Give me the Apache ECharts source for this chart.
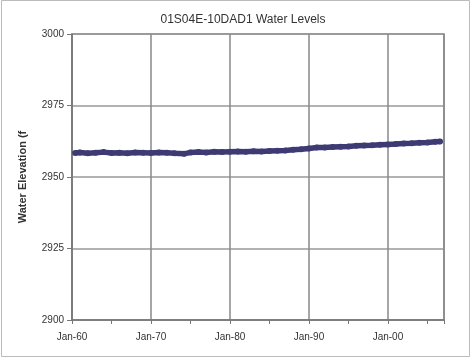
<!DOCTYPE html>
<html>
<head>
<meta charset="utf-8">
<script src="https://cdn.jsdelivr.net/npm/echarts@6/dist/echarts.min.js"></script>
<style>
html,body{margin:0;padding:0;background:#fff;}
#c{width:471px;height:359px;}
</style>
</head>
<body>
<div id="c"></div>
<script>
const title = "01S04E-10DAD1 Water Levels";
const yAxisName = "Water Elevation (f";
const years = [1960.4,1961,1962,1963,1964,1965,1966,1967,1968,1969,1970,1971,1972,1973,1974.2,1975,1976,1977,1978,1979,1980,1981,1982,1983,1984,1985,1986,1987,1988,1989,1990,1991,1992,1993,1994,1995,1996,1997,1998,1999,2000,2001,2002,2003,2004,2005,2006,2006.6];
const levels = [2958.4,2958.6,2958.3,2958.5,2958.7,2958.4,2958.5,2958.3,2958.6,2958.5,2958.4,2958.6,2958.5,2958.3,2958.1,2958.6,2958.7,2958.6,2958.8,2958.7,2958.8,2958.9,2958.8,2959.0,2958.9,2959.1,2959.2,2959.3,2959.5,2959.7,2960.0,2960.3,2960.3,2960.5,2960.6,2960.7,2960.9,2961.0,2961.1,2961.3,2961.4,2961.5,2961.7,2961.8,2962.0,2962.1,2962.3,2962.4];
const yTicks = [2900, 2925, 2950, 2975, 3000];
const xTickYears = [1960, 1970, 1980, 1990, 2000];

const chart = echarts.init(document.getElementById('c'));
const font = "'Liberation Sans', Arial, sans-serif";
chart.setOption({
  animation: false,
  backgroundColor: '#fff',
  title: {
    text: title, left: 238, top: 9, textAlign: 'center',
    textStyle: {fontFamily: font, fontSize: 12, fontWeight: 'normal', color: '#333'}
  },
  graphic: [{
    type: 'rect', shape: {x: 1.5, y: 0.5, width: 468, height: 356},
    style: {fill: 'none', stroke: '#bbb', lineWidth: 1}, silent: true
  }],
  grid: {left: 72, right: 27, top: 34, bottom: 39, show: true, borderColor: '#888', borderWidth: 1.5},
  xAxis: {
    type: 'value', min: 1960, max: 2007.1, interval: 10,
    axisLine: {lineStyle: {color: '#777', width: 1.5}},
    axisTick: {show: true, length: 4, lineStyle: {color: '#777'}},
    minorTick: {show: true, splitNumber: 2, length: 4, lineStyle: {color: '#777'}},
    splitLine: {show: true, lineStyle: {color: '#888', width: 1.5}},
    axisLabel: {
      fontFamily: font, fontSize: 10, color: '#333', margin: 12,
      formatter: v => xTickYears.includes(Math.round(v)) ? 'Jan-' + String(Math.round(v)).slice(2) : ''
    }
  },
  yAxis: {
    type: 'value', min: yTicks[0], max: yTicks[yTicks.length - 1], interval: 25,
    name: yAxisName, nameLocation: 'middle', nameGap: 44,
    nameTextStyle: {fontFamily: font, fontSize: 11, fontWeight: 'bold', color: '#333'},
    axisLine: {show: true, lineStyle: {color: '#777', width: 1.5}},
    axisTick: {show: true, length: 5, lineStyle: {color: '#777'}},
    splitLine: {show: true, lineStyle: {color: '#999', width: 1.5}},
    axisLabel: {fontFamily: font, fontSize: 10, color: '#333', margin: 8, formatter: v => String(v)}
  },
  series: [{
    type: 'line',
    data: years.map((y, i) => [y, levels[i]]),
    symbol: 'circle', symbolSize: 6,
    itemStyle: {color: '#3e3a74'},
    lineStyle: {color: '#3e3a74', width: 5.5},
    showSymbol: true
  }]
});
</script>
</body>
</html>
